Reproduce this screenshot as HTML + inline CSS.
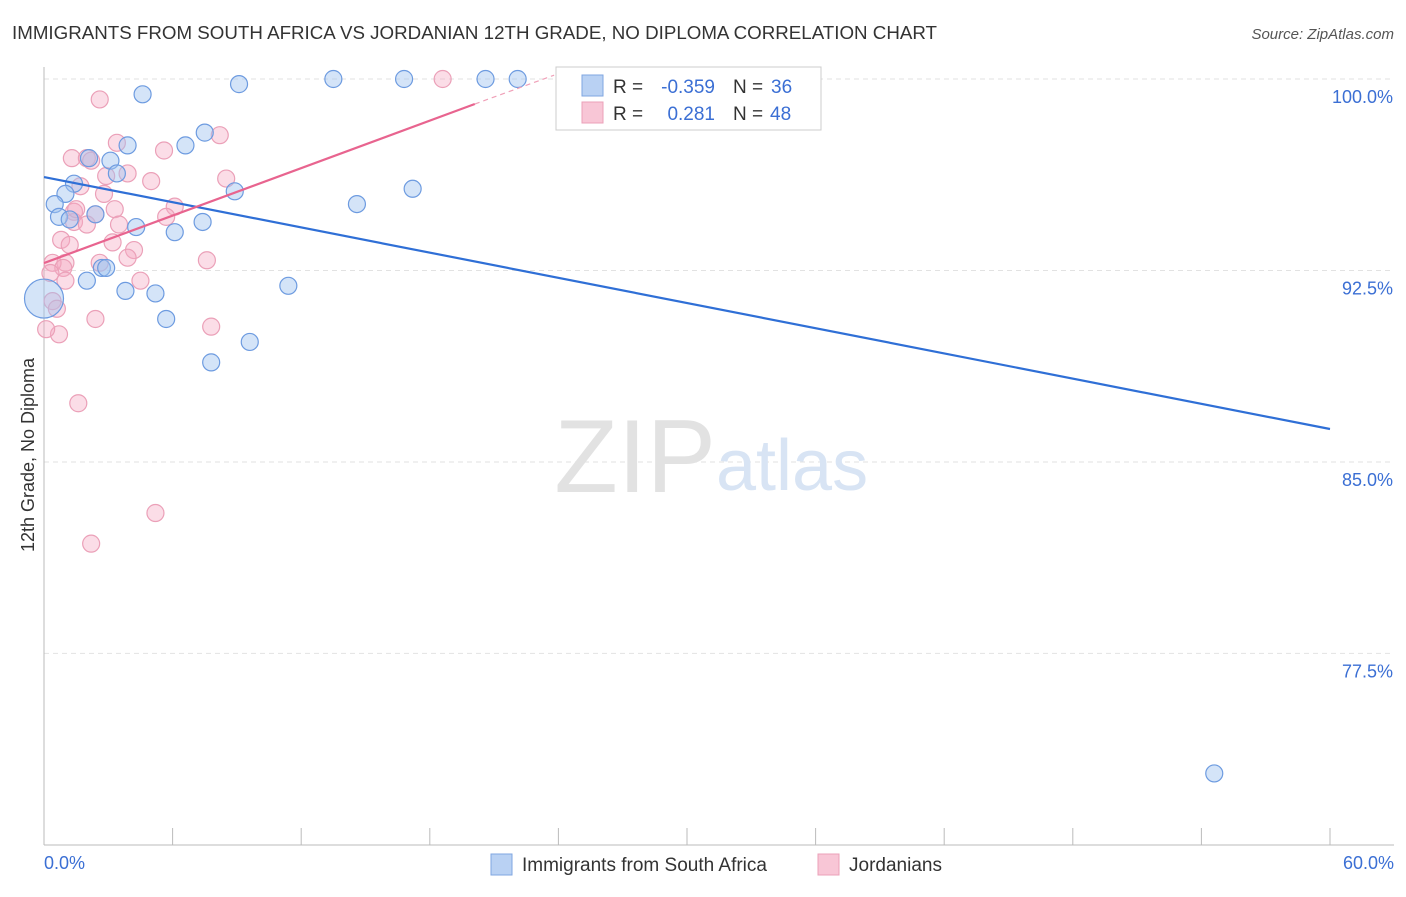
<!DOCTYPE html>
<html><head><meta charset="utf-8"><style>
body{margin:0;background:#fff;font-family:"Liberation Sans",sans-serif;}
svg text{font-family:"Liberation Sans",sans-serif;}
</style></head><body>
<svg id="chart" width="1406" height="892">
<text x="12" y="39" font-size="18" fill="#333" textLength="925" lengthAdjust="spacingAndGlyphs">IMMIGRANTS FROM SOUTH AFRICA VS JORDANIAN 12TH GRADE, NO DIPLOMA CORRELATION CHART</text>
<text x="1394" y="39" font-size="15" fill="#555" text-anchor="end" font-style="italic">Source: ZipAtlas.com</text>
<g id="grid"></g>
<text x="716" y="492" font-size="104" fill="#e2e2e2" text-anchor="end" font-family="Liberation Serif">ZIP</text>
<text x="716" y="490" font-size="72" fill="#d8e4f4">atlas</text>
<g id="pts"></g>
<g id="lines"></g>
<text transform="translate(34,455) rotate(-90)" font-size="18" fill="#333" text-anchor="middle">12th Grade, No Diploma</text>
<text x="44" y="869" font-size="18" fill="#3b6fd4">0.0%</text>
<text x="1394" y="869" font-size="18" fill="#3b6fd4" text-anchor="end">60.0%</text>
<g>
<rect x="556" y="67" width="265" height="63" fill="#fff" stroke="#ccc"/>
<rect x="582" y="75" width="21" height="21" fill="#b9d1f3" stroke="#7fa6e0"/>
<rect x="582" y="102" width="21" height="21" fill="#f8c6d6" stroke="#eba0b8"/>
<text x="613" y="93" font-size="19" fill="#333">R =</text>
<text x="715" y="93" font-size="19" fill="#3b6fd4" text-anchor="end">-0.359</text>
<text x="733" y="93" font-size="19" fill="#333">N =</text>
<text x="771" y="93" font-size="19" fill="#3b6fd4">36</text>
<text x="613" y="120" font-size="19" fill="#333">R =</text>
<text x="715" y="120" font-size="19" fill="#3b6fd4" text-anchor="end">0.281</text>
<text x="733" y="120" font-size="19" fill="#333">N =</text>
<text x="770" y="120" font-size="19" fill="#3b6fd4">48</text>
</g>
<g>
<rect x="491" y="854" width="21" height="21" fill="#b9d1f3" stroke="#7fa6e0"/>
<text x="522" y="871" font-size="19" fill="#333">Immigrants from South Africa</text>
<rect x="818" y="854" width="21" height="21" fill="#f8c6d6" stroke="#eba0b8"/>
<text x="849" y="871" font-size="19" fill="#333">Jordanians</text>
</g>
</svg>
<script>
const yTicks=[100,92.5,85,77.5];
const yTickLabels=["100.0%","92.5%","85.0%","77.5%"];
const blueX=[4.6,9.1,13.5,16.8,20.6,22.1,33.6,7.5,6.6,3.9,3.1,3.4,1.4,1.0,0.5,8.9,17.2,14.6,0.7,2.4,4.3,6.1,7.4,2.7,2.0,3.8,5.2,11.4,5.7,9.6,7.8,54.6,0.0,2.9,1.2,2.1];
const blueY=[99.4,99.8,100,100,100,100,100,97.9,97.4,97.4,96.8,96.3,95.9,95.5,95.1,95.6,95.7,95.1,94.6,94.7,94.2,94.0,94.4,92.6,92.1,91.7,91.6,91.9,90.6,89.7,88.9,72.8,91.4,92.6,94.5,96.9];
const blueR=[9,9,9,9,9,9,9,9,9,9,9,9,9,9,9,9,9,9,9,9,9,9,9,9,9,9,9,9,9,9,9,9,20,9,9,9];
const pinkX=[2.6,18.6,8.2,5.6,3.4,1.3,2.0,2.2,3.9,5.0,8.5,1.7,2.8,6.1,3.3,1.4,2.4,5.7,1.4,2.0,3.5,0.8,1.2,3.2,4.2,3.9,2.6,1.0,0.4,0.9,7.6,0.3,4.5,1.0,0.4,0.6,2.4,7.8,0.7,0.1,1.6,5.2,2.2,1.5,2.9];
const pinkY=[99.2,100,97.8,97.2,97.5,96.9,96.9,96.8,96.3,96.0,96.1,95.8,95.5,95.0,94.9,94.8,94.7,94.6,94.4,94.3,94.3,93.7,93.5,93.6,93.3,93.0,92.8,92.8,92.8,92.6,92.9,92.4,92.1,92.1,91.3,91.0,90.6,90.3,90.0,90.2,87.3,83.0,81.8,94.9,96.2];
const blueLine=[96.16,86.29];
const pinkLine=[92.79,99.02,100.15];
const pinkLineX=[0,20.1,23.8];
const X0=44,X1=1330,Y100=79,PER=25.53;
const sx=v=>X0+(v/60)*(X1-X0);
const sy=v=>Y100+(100-v)*PER;
const NS="http://www.w3.org/2000/svg";
function mk(t,a,p){const e=document.createElementNS(NS,t);for(const k in a)e.setAttribute(k,a[k]);p.appendChild(e);return e;}
const grid=document.getElementById('grid');
const gl=mk('line',{x1:44,x2:1394,y1:sy(100),y2:sy(100),stroke:'#ddd','stroke-dasharray':'5,4'},grid);


yTicks.forEach((t,i)=>{
 const l=mk('line',{x1:44,x2:1394,y1:sy(t),y2:sy(t),stroke:'#e2e2e2','stroke-dasharray':'5,4'},grid);
 
 
 const tx=mk('text',{x:1393,y:sy(t)+24,'font-size':18,fill:'#3b6fd4','text-anchor':'end'},grid);
 tx.textContent=yTickLabels[i];
 
 
});
const ax=mk('line',{x1:44,x2:44,y1:67,y2:845,stroke:'#bbb'},grid);


const bx=mk('line',{x1:44,x2:1394,y1:845,y2:845,stroke:'#bbb'},grid);


for(let i=1;i<=10;i++){const x=44+i*128.6;const t=mk('line',{x1:x,x2:x,y1:828,y2:845,stroke:'#bbb'},grid);
 
 }
const pts=document.getElementById('pts');
pinkX.forEach((x,i)=>{const c=mk('circle',{cx:sx(x),cy:sy(pinkY[i]),r:8.5,fill:'rgba(246,170,195,0.4)',stroke:'#eba0b8','stroke-width':1.2},pts);
 
 });
blueX.forEach((x,i)=>{const c=mk('circle',{cx:sx(x),cy:sy(blueY[i]),r:blueR[i]-0.5,fill:'rgba(160,195,240,0.45)',stroke:'#6d9be0','stroke-width':1.2},pts);
 
 });
const lines=document.getElementById('lines');
const b=mk('line',{x1:sx(0),y1:sy(blueLine[0]),x2:sx(60),y2:sy(blueLine[1]),stroke:'#2f6fd6','stroke-width':2.2},lines);


const p=mk('line',{x1:sx(pinkLineX[0]),y1:sy(pinkLine[0]),x2:sx(pinkLineX[1]),y2:sy(pinkLine[1]),stroke:'#e8648f','stroke-width':2.2},lines);


const pd=mk('line',{x1:sx(pinkLineX[1]),y1:sy(pinkLine[1]),x2:sx(pinkLineX[2]),y2:sy(pinkLine[2]),stroke:'#f0a0b8','stroke-width':1.2,'stroke-dasharray':'5,4'},lines);


</script>
</body></html>
